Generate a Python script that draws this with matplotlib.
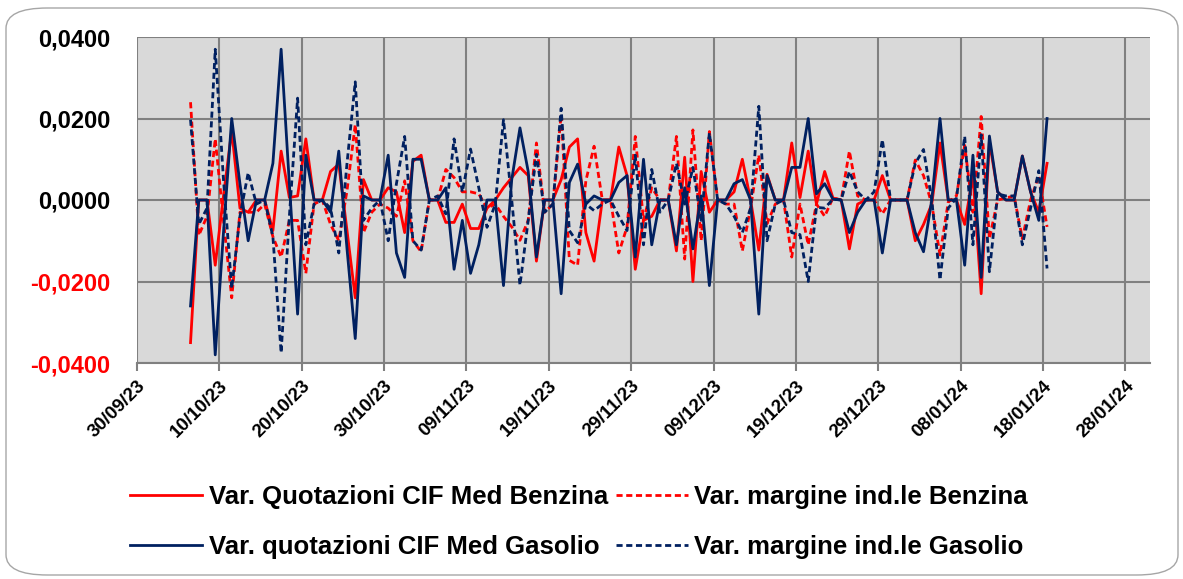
import numpy as np
import pandas as pd
import matplotlib
matplotlib.use("Agg")
import matplotlib.pyplot as plt
import matplotlib.dates as mdates
from matplotlib.patches import FancyBboxPatch

# ===== dati (variazioni giornaliere, 06/10/23 - 18/01/24) =====
dates = pd.date_range("2023-10-06", "2024-01-18", freq="D") + pd.Timedelta(hours=12)

quot_benzina = [
    -0.035, 0, 0, -0.016, 0.001, 0.017, -0.002, -0.003, 0, 0,
    -0.0075, 0.012, 0.0006, 0.001, 0.015, 0, 0, 0.007, 0.0088, -0.0075,
    -0.024, 0.005, 0, 0, 0.003, 0.002, -0.008, 0.0095, 0.011, 0,
    0, -0.0055, -0.0055, -0.001, -0.007, -0.007, -0.002, 0, 0.003, 0.0055,
    0.008, 0.006, -0.015, 0, 0, 0.005, 0.013, 0.015, -0.008, -0.015,
    0, 0, 0.013, 0.006, -0.017, -0.005, -0.004, 0, 0, -0.0125,
    0.0105, -0.020, 0.007, -0.003, 0, 0, 0.002, 0.010, 0, -0.0123,
    0.0063, 0, 0, 0.014, 0.0006, 0.012, -0.001, 0.007, 0.0005, 0,
    -0.012, -0.001, 0, 0, 0.006, 0, 0, 0, -0.010, -0.006,
    -0.001, 0.014, 0, 0, -0.006, 0.006, -0.023, 0.0144, 0.002, 0,
    0, 0.0108, 0.002, -0.003, 0.009,
]
marg_benzina = [
    0.024, -0.0087, -0.004, 0.015, -0.005, -0.024, -0.003, -0.003, -0.003, -0.001,
    -0.009, -0.014, -0.005, -0.005, -0.018, -0.001, 0, -0.006, -0.010, 0.0023,
    0.0185, -0.008, -0.003, -0.001, -0.002, -0.004, 0.0047, -0.010, -0.0127, 0,
    0, 0.0075, 0.0055, 0.002, 0.002, 0.0015, -0.002, -0.001, -0.004, -0.0066,
    -0.0099, -0.005, 0.014, -0.003, -0.001, 0.021, -0.0148, -0.016, 0.0047, 0.0132,
    0, 0, -0.013, -0.0066, 0.0156, -0.005, 0.003, 0, 0, 0.0156,
    -0.0145, 0.0172, -0.010, 0.0168, 0, -0.001, -0.001, -0.0125, -0.002, 0.011,
    -0.0058, -0.001, 0, -0.014, -0.001, -0.011, -0.001, -0.004, 0.0005, 0,
    0.012, 0.001, 0, 0, -0.0034, 0, 0, 0, 0.0098, 0.006,
    -0.001, -0.0135, -0.0005, 0.001, 0.0134, -0.003, 0.0205, -0.0095, 0, 0.0005,
    0.001, -0.0095, 0, 0.006, -0.0066,
]
quot_gasolio = [
    -0.026, 0, 0, -0.038, -0.008, 0.020, 0.004, -0.010, 0, 0,
    0.009, 0.037, 0.004, -0.028, 0.011, 0, 0, -0.003, 0.012, -0.012,
    -0.034, 0.001, 0, 0, 0.011, -0.013, -0.019, 0.010, 0.010, 0,
    0, 0.003, -0.017, -0.005, -0.018, -0.011, 0, 0, -0.021, 0.005,
    0.0177, 0.007, -0.014, 0, 0, -0.023, 0.0043, 0.0088, -0.001, 0.001,
    0, 0, 0.0043, 0.006, -0.014, 0.010, -0.011, 0, 0, -0.011,
    0.003, -0.012, 0.001, -0.021, 0, 0, 0.004, 0.005, 0, -0.028,
    0.006, 0, 0, 0.008, 0.008, 0.020, 0.0015, 0.004, 0.0002, 0,
    -0.008, -0.003, 0, 0, -0.013, 0, 0, 0, -0.008, -0.0127,
    0, 0.020, 0, 0, -0.016, 0.011, -0.019, 0.0157, 0.002, 0,
    0, 0.0108, 0.002, -0.005, 0.020,
]
marg_gasolio = [
    0.0197, -0.006, -0.002, 0.037, 0.005, -0.0217, -0.004, 0.0067, -0.001, 0,
    -0.009, -0.0375, -0.004, 0.025, -0.011, -0.001, 0, -0.002, -0.013, 0.009,
    0.029, -0.005, -0.002, 0, -0.010, 0.004, 0.0156, -0.010, -0.0123, 0,
    0.001, -0.0034, 0.015, 0.002, 0.0125, 0.003, -0.0067, -0.001, 0.0197, 0,
    -0.0209, -0.005, 0.0112, -0.003, -0.001, 0.0225, -0.0075, -0.0105, -0.001, -0.0026,
    -0.001, 0, -0.004, -0.0075, 0.011, -0.011, 0.0075, -0.003, 0, 0.009,
    -0.001, 0.008, -0.005, 0.0165, 0, -0.001, -0.004, -0.008, -0.002, 0.023,
    -0.010, -0.001, 0, -0.008, -0.0085, -0.020, -0.0018, -0.002, 0.0002, 0,
    0.007, 0.002, 0, 0.002, 0.0148, 0, 0, 0, 0.009, 0.0124,
    0, -0.0196, -0.002, 0.0005, 0.0156, -0.011, 0.016, -0.0176, 0.0015, 0.001,
    0.001, -0.011, -0.002, 0.0072, -0.0168,
]

labels = [
    "Var. Quotazioni CIF Med Benzina",
    "Var. margine ind.le Benzina",
    "Var. quotazioni CIF Med Gasolio",
    "Var. margine ind.le Gasolio",
]
y_ticks = [-0.04, -0.02, 0.0, 0.02, 0.04]

RED = "#FF0000"
NAVY = "#002060"
plt.rcParams["font.family"] = ["Liberation Sans", "DejaVu Sans"]

# ===== figura =====
fig = plt.figure(figsize=(11.83, 5.79), dpi=100)
W, H = 1183, 579
fig.patches.append(FancyBboxPatch(
    (6 / W, 4 / H), 1172 / W, 567 / H,
    boxstyle="round,pad=0,rounding_size=0.035",
    transform=fig.transFigure, facecolor="white", edgecolor="#A6A6A6",
    linewidth=1.0, zorder=-10))

ax = fig.add_axes([137 / W, 1 - 363 / H, (1150 - 137) / W, (363 - 37) / H])
ax.set_facecolor("#D9D9D9")

dash = (0, (2.2, 1.3))
l1, = ax.plot(dates, quot_benzina, color=RED, lw=2.0)
l2, = ax.plot(dates, marg_benzina, color=RED, lw=2.0, ls=dash)
l3, = ax.plot(dates, quot_gasolio, color=NAVY, lw=2.0)
l4, = ax.plot(dates, marg_gasolio, color=NAVY, lw=2.0, ls=dash)

ax.set_ylim(-0.04, 0.04)
ax.set_xlim(pd.Timestamp("2023-09-30"), pd.Timestamp("2024-01-31"))

xt = pd.date_range("2023-09-30", "2024-01-28", freq="10D")
ax.set_xticks(xt)
ax.xaxis.set_major_formatter(mdates.DateFormatter("%d/%m/%y"))
ax.set_yticks(y_ticks)
ax.set_yticklabels([f"{v:.4f}".replace(".", ",") for v in y_ticks])
for lab, v in zip(ax.get_yticklabels(), y_ticks):
    lab.set_color(RED if v < 0 else "black")
    lab.set_fontweight("bold")
    lab.set_fontsize(17)
for lab in ax.get_xticklabels():
    lab.set_rotation(45)
    lab.set_ha("right")
    lab.set_rotation_mode("anchor")
    lab.set_fontweight("bold")
    lab.set_fontsize(13.5)

ax.grid(True, color="#808080", lw=1.5)
ax.set_axisbelow(True)
for s in ["top", "right", "left"]:
    ax.spines[s].set_visible(False)
ax.spines["bottom"].set_color("#808080")
ax.spines["bottom"].set_linewidth(1.5)
ax.tick_params(axis="y", length=0, pad=19)
ax.tick_params(axis="x", length=6, color="#808080", width=1.5, pad=4)

# legenda: riga 1 benzina, riga 2 gasolio (matplotlib riempie per colonne)
fig.legend([l1, l3, l2, l4], [labels[0], labels[2], labels[1], labels[3]],
           loc="center", bbox_to_anchor=(579 / W, 1 - 522 / H), ncol=2,
           frameon=False, prop={"weight": "bold", "size": 18.5},
           handlelength=2.8, handletextpad=0.25, columnspacing=0.3,
           labelspacing=1.0)

fig.savefig("out.png", dpi=100)
